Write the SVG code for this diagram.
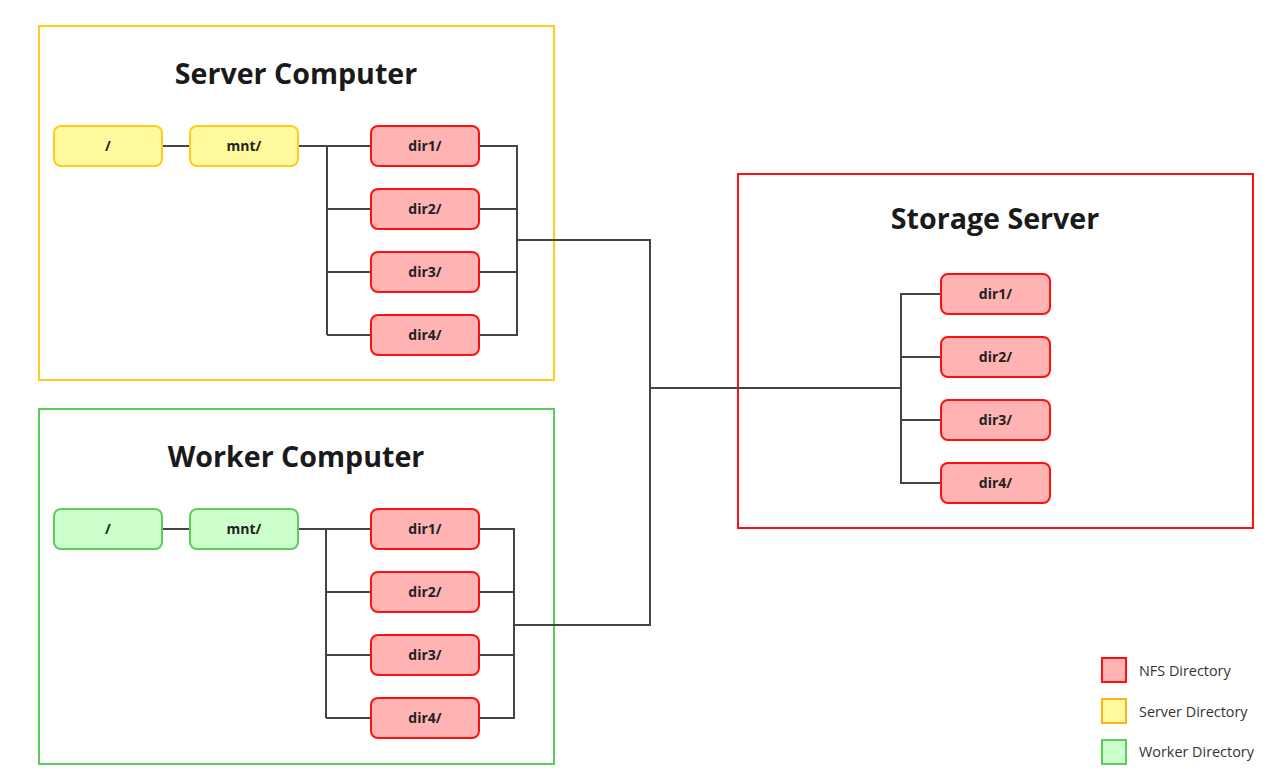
<svg xmlns="http://www.w3.org/2000/svg" width="1275" height="783" viewBox="0 0 1275 783">
<style>
.t{font-family:"Open Sans","Noto Sans",sans-serif;font-weight:bold;font-size:28.6px;fill:#1a1a1a;text-anchor:middle}
.n{font-family:"Open Sans","Noto Sans",sans-serif;font-weight:bold;font-size:14px;fill:#222;text-anchor:middle}
.l{font-family:"Open Sans","Noto Sans",sans-serif;font-size:14.4px;fill:#333}
.nfs{fill:#ffb3b3;stroke:#ff1010;stroke-width:2}
.srv{fill:#fffa9e;stroke:#ffcc1a;stroke-width:2}
.wrk{fill:#ccffcc;stroke:#5ccc5c;stroke-width:2}
.c{fill:none;stroke:#444;stroke-width:2}
</style>
<rect width="1275" height="783" fill="#fff"/>
<g id="server-computer">
<rect x="39" y="26" width="515" height="354" fill="none" stroke="#ffcc1a" stroke-width="2"/>
<text class="t" x="296" y="84">Server Computer</text>
</g>
<g id="worker-computer">
<rect x="39" y="409" width="515" height="355" fill="none" stroke="#5ccc5c" stroke-width="2"/>
<text class="t" x="296" y="467">Worker Computer</text>
</g>
<g id="storage-server">
<rect x="738" y="174" width="515" height="354" fill="none" stroke="#ff1010" stroke-width="2"/>
<text class="t" x="995" y="229">Storage Server</text>
</g>
<g id="connectors">
<path class="c" d="M162 146H190M298 146H371M327 146V335M327 209H371M327 272H371M327 335H371"/>
<path class="c" d="M479 146H517V335H479M479 209H517M479 272H517M517 240H650V625H514"/>
<path class="c" d="M162 529H190M298 529H371M326 529V718M326 592H371M326 655H371M326 718H371"/>
<path class="c" d="M479 529H514V718H479M479 592H514M479 655H514"/>
<path class="c" d="M650 388H901M941 294H901V483H941M901 357H941M901 420H941"/>
</g>
<g id="s-root"><rect class="srv" x="54" y="126" width="108" height="40" rx="7"/><text class="n" x="108" y="151">/</text></g>
<g id="s-mnt"><rect class="srv" x="190" y="126" width="108" height="40" rx="7"/><text class="n" x="244" y="151">mnt/</text></g>
<g id="s-dir1"><rect class="nfs" x="371" y="126" width="108" height="40" rx="7"/><text class="n" x="425" y="151">dir1/</text></g>
<g id="s-dir2"><rect class="nfs" x="371" y="189" width="108" height="40" rx="7"/><text class="n" x="425" y="214">dir2/</text></g>
<g id="s-dir3"><rect class="nfs" x="371" y="252" width="108" height="40" rx="7"/><text class="n" x="425" y="277">dir3/</text></g>
<g id="s-dir4"><rect class="nfs" x="371" y="315" width="108" height="40" rx="7"/><text class="n" x="425" y="340">dir4/</text></g>
<g id="w-root"><rect class="wrk" x="54" y="509" width="108" height="40" rx="7"/><text class="n" x="108" y="534">/</text></g>
<g id="w-mnt"><rect class="wrk" x="190" y="509" width="108" height="40" rx="7"/><text class="n" x="244" y="534">mnt/</text></g>
<g id="w-dir1"><rect class="nfs" x="371" y="509" width="108" height="40" rx="7"/><text class="n" x="425" y="534">dir1/</text></g>
<g id="w-dir2"><rect class="nfs" x="371" y="572" width="108" height="40" rx="7"/><text class="n" x="425" y="597">dir2/</text></g>
<g id="w-dir3"><rect class="nfs" x="371" y="635" width="108" height="40" rx="7"/><text class="n" x="425" y="660">dir3/</text></g>
<g id="w-dir4"><rect class="nfs" x="371" y="698" width="108" height="40" rx="7"/><text class="n" x="425" y="723">dir4/</text></g>
<g id="st-dir1"><rect class="nfs" x="941" y="274" width="109" height="40" rx="7"/><text class="n" x="995.5" y="299">dir1/</text></g>
<g id="st-dir2"><rect class="nfs" x="941" y="337" width="109" height="40" rx="7"/><text class="n" x="995.5" y="362">dir2/</text></g>
<g id="st-dir3"><rect class="nfs" x="941" y="400" width="109" height="40" rx="7"/><text class="n" x="995.5" y="425">dir3/</text></g>
<g id="st-dir4"><rect class="nfs" x="941" y="463" width="109" height="40" rx="7"/><text class="n" x="995.5" y="488">dir4/</text></g>
<g id="legend">
<rect class="nfs" x="1102" y="658" width="24" height="24"/><text class="l" x="1139" y="676">NFS Directory</text>
<rect x="1102" y="699" width="24" height="24" fill="#fffa9e" stroke="#ffb21a" stroke-width="2"/><text class="l" x="1139" y="717">Server Directory</text>
<rect class="wrk" x="1102" y="740" width="24" height="24"/><text class="l" x="1139" y="757">Worker Directory</text>
</g>
</svg>
